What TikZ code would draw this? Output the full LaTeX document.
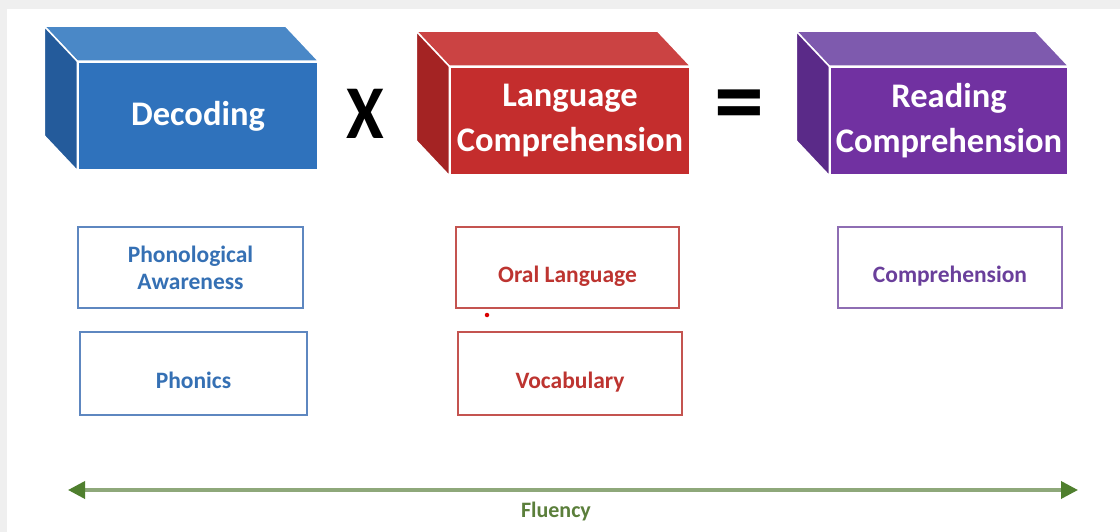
\documentclass[tikz,border=0pt]{standalone}
\usepackage{fontspec}
\setmainfont{Carlito}
\usetikzlibrary{arrows.meta,calc}
\definecolor{bluefront}{HTML}{2F72BC}
\definecolor{bluetop}{HTML}{4A88C7}
\definecolor{blueside}{HTML}{245B9B}
\definecolor{redfront}{HTML}{C42D2D}
\definecolor{redtop}{HTML}{CB4343}
\definecolor{redside}{HTML}{A42323}
\definecolor{purfront}{HTML}{7131A1}
\definecolor{purtop}{HTML}{7E5AAE}
\definecolor{purside}{HTML}{5A2A88}
\definecolor{bluetxt}{HTML}{3570B4}
\definecolor{blueline}{HTML}{5E87C0}
\definecolor{redtxt}{HTML}{BD3430}
\definecolor{redline}{HTML}{C45450}
\definecolor{purtxt}{HTML}{6A3F9B}
\definecolor{purline}{HTML}{8E6DB3}
\definecolor{fluline}{HTML}{8EA87A}
\definecolor{fludark}{HTML}{4F7F2E}
\definecolor{flutxt}{HTML}{5B7F3B}
\definecolor{bggray}{HTML}{EFEFEF}
\tikzset{
  x=1pt, y=-1pt,
  frontface/.style={draw=white, line width=1.5pt, minimum width=240pt, minimum height=108pt,
    inner sep=0pt, text=white, align=center,
    font=\bfseries\fontsize{34.5}{45}\selectfont},
  sidefill/.style={draw=white, line width=1.5pt, line join=round},
  smallbox/.style={draw, line width=1.4pt, fill=white, minimum width=225pt, minimum height=81pt,
    inner sep=0pt, align=center, font=\bfseries\fontsize{23.5}{27}\selectfont},
  lowtext/.style={text height=34pt, text depth=5pt},
  opsign/.style={inner sep=0pt, text=black, font=\bfseries\fontsize{76}{76}\selectfont},
}
\newcommand{\mycube}[3]{% name, top, side
  \fill[#2, sidefill] (#1.north west) -- ++(-33,-35) -- ($(#1.north east)+(-33,-35)$) -- (#1.north east) -- cycle;
  \fill[#3, sidefill] (#1.north west) -- ++(-33,-35) -- ($(#1.south west)+(-33,-35)$) -- (#1.south west) -- cycle;
}
\begin{document}
\begin{tikzpicture}
\useasboundingbox (0,0) rectangle (1120,532);
\fill[bggray] (0,0) rectangle (1120,532);
\fill[white] (7,9) rectangle (1120,532);

% cubes
\node[frontface, fill=bluefront] (dec) at (198,116) {Decoding};
\mycube{dec}{bluetop}{blueside}

\node[frontface, fill=redfront] (lang) at (570,121) {Language\\Comprehension};
\mycube{lang}{redtop}{redside}

\node[frontface, fill=purfront, minimum width=238pt] (read) at (949,121) {Reading\\Comprehension};
\mycube{read}{purtop}{purside}

% operators
\node[opsign, xscale=0.9] (times) at (365,114) {X};
\node[opsign, font=\bfseries\fontsize{100}{100}\selectfont] (eq) at (739,112) {=};

% small boxes
\node[smallbox, draw=blueline, text=bluetxt] (pa) at (190.5,267.5) {Phonological\\Awareness};
\node[smallbox, lowtext, draw=blueline, text=bluetxt, minimum width=227pt, minimum height=83pt] (ph) at (193.5,373.5) {Phonics};
\node[smallbox, lowtext, draw=redline, text=redtxt, minimum width=223pt] (oral) at (567.5,267.5) {Oral Language};
\node[smallbox, lowtext, draw=redline, text=redtxt, minimum width=224pt, minimum height=83pt] (voc) at (570,373.5) {Vocabulary};
\node[smallbox, lowtext, draw=purline, text=purtxt, minimum width=224pt] (comp) at (950,267.5) {Comprehension};
\node[circle, fill=red!85!black, inner sep=0pt, minimum size=4.5pt] (dot) at (487,315) {};

% fluency arrow
\coordinate (fl) at (68,490);
\coordinate (fr) at (1078,490);
\draw[fluline, line width=3.5pt,
  {Triangle[length=17pt,width=17pt,color=fludark]}-{Triangle[length=17pt,width=17pt,color=fludark]}] (fl) -- (fr);
\node[font=\bfseries\fontsize{22}{26}\selectfont, text=flutxt] (flu) at (556,512) {Fluency};
\end{tikzpicture}
\end{document}
